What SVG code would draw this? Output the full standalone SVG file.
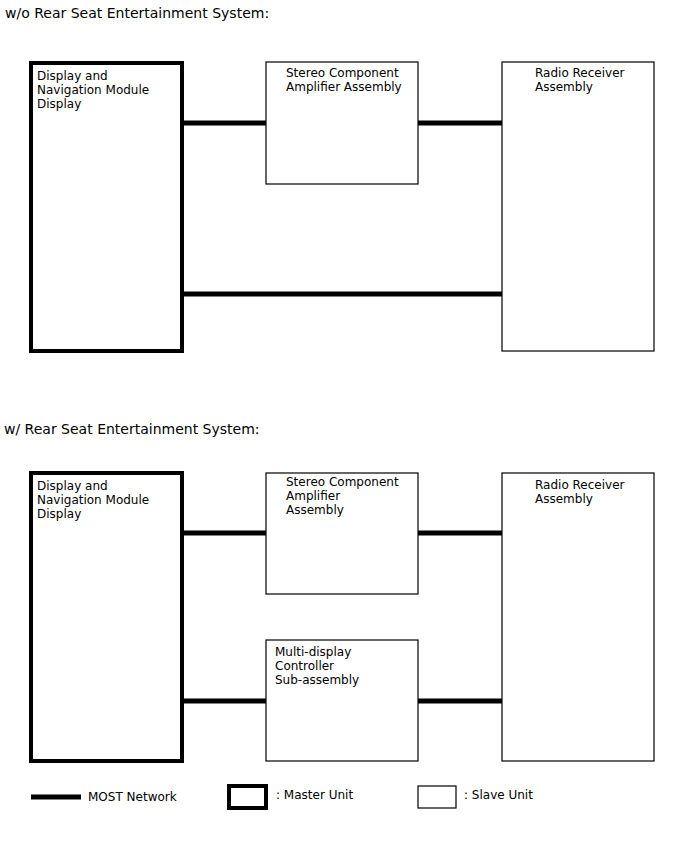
<svg xmlns="http://www.w3.org/2000/svg" width="688" height="852" viewBox="0 0 688 852">
<style>
text{font-family:"DejaVu Sans",sans-serif;fill:#000}
.t{font-size:14px}
.n{font-size:12px}
.l{font-size:12px}
.m{fill:#fff;stroke:#000;stroke-width:4}
.s{fill:#fff;stroke:#000;stroke-width:1.2}
.c{stroke:#000;stroke-width:5;fill:none}
</style>
<rect width="688" height="852" fill="#fff"/>
<text class="t" x="5" y="18">w/o Rear Seat Entertainment System:</text>
<text class="t" x="4" y="434">w/ Rear Seat Entertainment System:</text>
<g id="connectors">
<line class="c" x1="184" y1="123" x2="266" y2="123"/>
<line class="c" x1="418" y1="123" x2="502" y2="123"/>
<line class="c" x1="184" y1="294" x2="502" y2="294"/>
<line class="c" x1="184" y1="533" x2="266" y2="533"/>
<line class="c" x1="418" y1="533" x2="502" y2="533"/>
<line class="c" x1="184" y1="701" x2="266" y2="701"/>
<line class="c" x1="418" y1="701" x2="502" y2="701"/>
</g>
<g id="dnm1">
<rect class="m" x="31" y="63" width="151" height="288"/>
<text class="n" x="37" y="80">Display and</text>
<text class="n" x="37" y="94">Navigation Module</text>
<text class="n" x="37" y="108">Display</text>
</g>
<g id="amp1">
<rect class="s" x="266" y="62" width="152" height="122"/>
<text class="n" x="286" y="77">Stereo Component</text>
<text class="n" x="286" y="91">Amplifier Assembly</text>
</g>
<g id="radio1">
<rect class="s" x="502" y="62" width="152" height="289"/>
<text class="n" x="535" y="77">Radio Receiver</text>
<text class="n" x="535" y="91">Assembly</text>
</g>
<g id="dnm2">
<rect class="m" x="31" y="473" width="151" height="288"/>
<text class="n" x="37" y="490">Display and</text>
<text class="n" x="37" y="504">Navigation Module</text>
<text class="n" x="37" y="518">Display</text>
</g>
<g id="amp2">
<rect class="s" x="266" y="473" width="152" height="121"/>
<text class="n" x="286" y="486">Stereo Component</text>
<text class="n" x="286" y="500">Amplifier</text>
<text class="n" x="286" y="514">Assembly</text>
</g>
<g id="radio2">
<rect class="s" x="502" y="473" width="152" height="288"/>
<text class="n" x="535" y="489">Radio Receiver</text>
<text class="n" x="535" y="503">Assembly</text>
</g>
<g id="mdc">
<rect class="s" x="266" y="640" width="152" height="121"/>
<text class="n" x="275" y="656">Multi-display</text>
<text class="n" x="275" y="670">Controller</text>
<text class="n" x="275" y="684">Sub-assembly</text>
</g>
<g id="legend">
<line class="c" x1="31" y1="797" x2="81" y2="797"/>
<text class="l" x="88" y="801">MOST Network</text>
<rect class="m" x="229" y="786" width="37" height="22"/>
<text class="l" x="276" y="799">: Master Unit</text>
<rect class="s" x="418" y="786" width="38" height="22"/>
<text class="l" x="464" y="799">: Slave Unit</text>
</g>
</svg>
